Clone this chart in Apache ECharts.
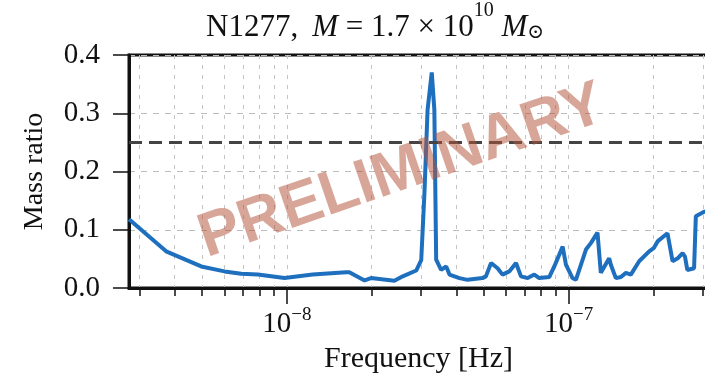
<!DOCTYPE html>
<html><head><meta charset="utf-8">
<script src="https://cdn.jsdelivr.net/npm/echarts@6/dist/echarts.min.js"></script>
<style>html,body{margin:0;padding:0;background:#fff}#c{width:705px;height:375px}</style>
</head><body><div id="c"></div>
<script>
// ---- data ----
const freqs = [2.754e-9, 3.73e-9, 4.97e-9, 6.01e-9, 6.89e-9, 7.89e-9, 9.82e-9, 1.236e-8, 1.625e-8, 1.667e-8,
  1.888e-8, 1.99e-8, 2.41e-8, 2.58e-8, 2.88e-8, 3.00e-8, 3.08e-8, 3.16e-8, 3.27e-8, 3.34e-8,
  3.39e-8, 3.53e-8, 3.68e-8, 3.78e-8, 4.10e-8, 4.38e-8, 4.95e-8, 5.09e-8, 5.31e-8, 5.60e-8,
  5.83e-8, 6.16e-8, 6.51e-8, 6.78e-8, 7.16e-8, 7.56e-8, 7.87e-8, 8.55e-8, 8.90e-8, 9.53e-8,
  9.79e-8, 1.033e-7, 1.062e-7, 1.153e-7, 1.20e-7, 1.267e-7, 1.302e-7, 1.32e-7, 1.394e-7, 1.413e-7,
  1.472e-7, 1.534e-7, 1.598e-7, 1.664e-7, 1.781e-7, 1.933e-7, 2.01e-7, 2.07e-7, 2.245e-7, 2.34e-7,
  2.44e-7, 2.54e-7, 2.59e-7, 2.64e-7, 2.79e-7, 2.83e-7, 3.03e-7, 3.126e-7];
const massRatio = [0.118, 0.063, 0.037, 0.0285, 0.0245, 0.023, 0.017, 0.023, 0.027, 0.027,
  0.013, 0.017, 0.0125, 0.020, 0.030, 0.048, 0.163, 0.306, 0.370, 0.306,
  0.0485, 0.031, 0.037, 0.023, 0.017, 0.014, 0.017, 0.020, 0.043, 0.034,
  0.023, 0.0285, 0.043, 0.020, 0.017, 0.023, 0.017, 0.019, 0.037, 0.071,
  0.040, 0.017, 0.014, 0.066, 0.077, 0.095, 0.026, 0.023, 0.051, 0.040,
  0.017, 0.019, 0.026, 0.023, 0.046, 0.063, 0.069, 0.080, 0.094, 0.046,
  0.051, 0.060, 0.054, 0.031, 0.034, 0.123, 0.131, 0.132];
const threshold = 0.25;
const xMin = 2.754e-9, xMax = 3.126e-7;
const majorTicks = [1e-8, 1e-7];
const gridTicks = [3e-9, 4e-9, 5e-9, 6e-9, 7e-9, 8e-9, 9e-9, 1e-8,
  2e-8, 3e-8, 4e-8, 5e-8, 6e-8, 7e-8, 8e-8, 9e-8, 1e-7, 2e-7, 3e-7];
const yMin = 0, yMax = 0.4, yStep = 0.1;
const titleText = '{n|N1277,}{sp| }{i|M}{n| = 1.7 × 10}{sup|10}{i| M}{sub|⊙}';
const xName = 'Frequency [Hz]';
const yName = 'Mass ratio';
const watermark = 'PRELIMINARY';

// ---- chart ----
const SERIF = '"Liberation Serif", "DejaVu Serif", serif';
const INK = '#111';
const chart = echarts.init(document.getElementById('c'), null, {renderer: 'canvas'});
const pts = freqs.map((f, i) => [f, massRatio[i]]);

chart.setOption({
  animation: false,
  backgroundColor: '#fff',
  title: {
    text: titleText, left: 201, top: -4,
    textStyle: {
      fontWeight: 'normal',
      rich: {
        n: {fontFamily: SERIF, fontSize: 31, fontWeight: 'normal', color: INK, lineHeight: 42, verticalAlign: 'bottom'},
        sp: {fontFamily: SERIF, fontSize: 31, fontWeight: 'normal', width: 14, lineHeight: 42},
        i: {fontFamily: SERIF, fontSize: 31, fontWeight: 'normal', fontStyle: 'italic', color: INK, lineHeight: 42, verticalAlign: 'bottom'},
        sup: {fontFamily: SERIF, fontSize: 20, fontWeight: 'normal', color: INK, lineHeight: 24, verticalAlign: 'top'},
        sub: {fontFamily: SERIF, fontSize: 20, fontWeight: 'normal', color: INK, lineHeight: 21, verticalAlign: 'bottom'}
      }
    }
  },
  grid: {left: 129, right: -3, top: 55, bottom: 87, show: true, borderColor: INK, borderWidth: 3,
         containLabel: false, outerBoundsMode: 'none'},
  xAxis: [{
    type: 'log', logBase: 10, position: 'bottom', min: xMin, max: xMax,
    axisLine: {show: true, lineStyle: {color: INK, width: 3}},
    axisTick: {show: true, customValues: majorTicks, length: 16, lineStyle: {color: INK, width: 1.5}},
    axisLabel: {
      customValues: majorTicks, margin: 18,
      formatter: v => { const e = Math.round(Math.log10(v)); return '{b|10}{s|' + (e < 0 ? '−' : '') + Math.abs(e) + '}'; },
      rich: {
        b: {fontFamily: SERIF, fontSize: 29, color: INK, lineHeight: 33, verticalAlign: 'bottom'},
        s: {fontFamily: SERIF, fontSize: 19, color: INK, lineHeight: 19, verticalAlign: 'top'}
      }
    },
    splitLine: {show: false},
    name: xName, nameLocation: 'middle', nameGap: 55,
    nameTextStyle: {fontFamily: SERIF, fontSize: 30, color: INK}
  }, {
    type: 'log', logBase: 10, position: 'bottom', min: xMin, max: xMax,
    axisLine: {show: false},
    axisTick: {show: true, customValues: gridTicks, length: 8, lineStyle: {color: INK, width: 1.5}},
    axisLabel: {show: false},
    splitLine: {show: true, lineStyle: {color: '#c4c4c4', width: 1, type: [4, 6]}}
  }],
  yAxis: {
    type: 'value', min: yMin, max: yMax, interval: yStep,
    axisLine: {show: true, lineStyle: {color: INK, width: 3}},
    axisTick: {show: true, length: 16, lineStyle: {color: INK, width: 1.5}},
    axisLabel: {margin: 29, fontFamily: SERIF, fontSize: 29, color: INK, formatter: v => v.toFixed(1)},
    splitLine: {show: true, lineStyle: {color: '#bdbdbd', width: 1, type: [6, 6]}},
    name: yName, nameLocation: 'middle', nameGap: 80, nameRotate: 90,
    nameTextStyle: {fontFamily: SERIF, fontSize: 28, color: INK}
  },
  series: [{
    type: 'line', xAxisIndex: 0, data: pts, showSymbol: false, smooth: false,
    lineStyle: {color: '#1f6fbf', width: 4}, z: 3,
    markLine: {
      silent: true, symbol: 'none', label: {show: false},
      lineStyle: {color: '#444', width: 3, type: [13, 7]},
      data: [{yAxis: threshold}]
    }
  }],
  graphic: [{
    type: 'text', x: 402, y: 172, rotation: 19 * Math.PI / 180, z: 100,
    style: {
      text: watermark, x: 0, y: 0, align: 'center', verticalAlign: 'middle',
      fontFamily: '"Liberation Sans", Arial, sans-serif', fontWeight: 'bold', fontSize: 62,
      fill: 'rgba(180,85,60,0.52)'
    }
  }]
});
</script>
</body></html>
